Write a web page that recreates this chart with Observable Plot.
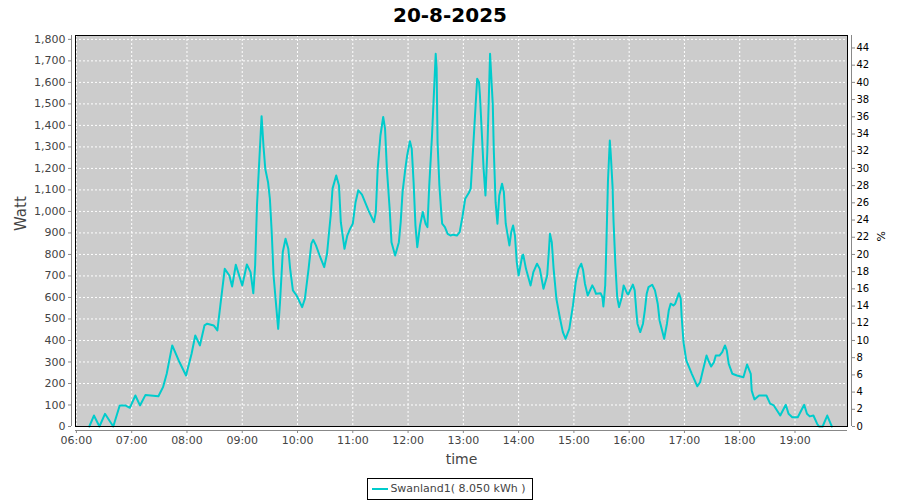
<!DOCTYPE html>
<html>
<head>
<meta charset="utf-8">
<script src="https://cdn.jsdelivr.net/npm/d3@7"></script>
<script src="https://cdn.jsdelivr.net/npm/@observablehq/plot@0.6"></script>
<style>
  html, body { margin: 0; padding: 0; background: #fff; }
  #wrap { position: relative; width: 900px; height: 500px; overflow: hidden; font-family: "DejaVu Sans", sans-serif; }
  #title { position: absolute; left: 0; top: 0; width: 900px; height: 30px; line-height: 30px; text-align: center; font-weight: bold; font-size: 20px; color: #000; }
  #chart { position: absolute; left: 0; top: 30px; }
  #legendRow { position: absolute; left: 0; top: 477px; width: 900px; text-align: center; }
  #legend { display: inline-block; border: 1px solid #000; background: #fff; height: 20px; line-height: 20px; padding: 0 6px 0 4px; font-size: 11px; color: #444; }
  #legend .sw { display: inline-block; width: 16px; height: 2px; vertical-align: middle; margin-right: 2px; }
</style>
</head>
<body>
<div id="wrap">
  <div id="title"></div>
  <div id="chart"></div>
  <div id="legendRow"><div id="legend"></div></div>
</div>
<script>
// ---- data ----
const chartTitle = "20-8-2025";
const seriesName = "Swanland1( 8.050 kWh )";
const seriesColor = "#00cccc";
const dateStr = "2025-08-20";
const timeDomain = ["05:59", "19:57"];
const times = [
  "06:14","06:19","06:25","06:31","06:40","06:47","06:53","06:58","07:04","07:09",
  "07:15","07:29","07:34","07:38","07:44","07:51","07:59","08:05","08:09","08:14",
  "08:19","08:22","08:29","08:33","08:36","08:41","08:46","08:49","08:53","09:00",
  "09:05","09:09","09:12","09:14","09:16","09:21","09:23","09:25","09:28","09:30",
  "09:32","09:34","09:39","09:41","09:44","09:47","09:50","09:52","09:55","09:59",
  "10:05","10:08","10:12","10:15","10:17","10:20","10:24","10:29","10:32","10:36",
  "10:38","10:42","10:45","10:47","10:51","10:54","10:57","11:00","11:03","11:06",
  "11:10","11:14","11:17","11:23","11:25","11:27","11:30","11:33","11:35","11:37",
  "11:40","11:42","11:46","11:50","11:52","11:54","11:57","11:59","12:02","12:04",
  "12:06","12:08","12:10","12:13","12:16","12:19","12:21","12:23","12:26","12:30",
  "12:31","12:32","12:34","12:36","12:37","12:40","12:43","12:46","12:49","12:53",
  "12:56","12:59","13:02","13:06","13:08","13:11","13:15","13:17","13:18","13:20",
  "13:22","13:24","13:26","13:29","13:32","13:33","13:35","13:37","13:39","13:42",
  "13:44","13:46","13:50","13:52","13:54","13:56","13:58","14:00","14:04","14:05",
  "14:08","14:13","14:16","14:20","14:23","14:27","14:31","14:33","14:34","14:36",
  "14:38","14:41","14:45","14:48","14:51","14:55","14:59","15:02","15:05","15:08",
  "15:10","15:12","15:15","15:20","15:22","15:24","15:29","15:31","15:32","15:34",
  "15:35","15:37","15:39","15:40","15:42","15:43","15:45","15:47","15:49","15:52",
  "15:54","15:58","15:59","16:04","16:06","16:08","16:09","16:12","16:15","16:17",
  "16:19","16:21","16:25","16:28","16:31","16:33","16:38","16:41","16:43","16:45",
  "16:48","16:50","16:54","16:56","16:57","16:59","17:02","17:05","17:08","17:14",
  "17:17","17:20","17:24","17:26","17:29","17:32","17:34","17:38","17:41","17:44",
  "17:46","17:48","17:52","17:57","18:04","18:08","18:12","18:13","18:16","18:21",
  "18:29","18:33","18:37","18:44","18:50","18:53","18:57","19:03","19:10","19:13",
  "19:16","19:20","19:24","19:26","19:30","19:35","19:38","19:40"
];
const watts = [
  0,51,0,59,0,98,98,87,144,98,
  147,141,183,245,377,307,237,338,423,377,
  470,478,470,447,555,733,702,651,752,656,
  753,718,620,749,1028,1443,1307,1198,1136,1059,
  904,702,454,578,811,873,826,733,633,609,
  555,594,733,850,868,842,795,741,803,981,
  1106,1167,1121,950,826,888,919,943,1043,1098,
  1078,1036,1005,950,997,1198,1353,1439,1385,1198,
  1013,857,795,857,950,1090,1198,1260,1326,1291,
  1136,935,834,935,997,943,927,1121,1353,1733,
  1664,1322,1121,997,943,927,896,888,892,888,
  904,974,1059,1087,1106,1322,1617,1601,1540,1369,
  1198,1074,1276,1733,1493,1291,1043,943,1074,1129,
  1090,943,842,904,935,888,764,702,795,799,
  733,656,718,757,733,640,702,826,896,857,
  733,594,501,439,408,454,563,671,733,757,
  726,664,609,656,640,617,620,601,558,656,
  803,1144,1330,1268,1113,958,757,601,555,601,
  656,617,614,660,633,524,478,439,478,540,
  617,648,659,633,571,493,408,478,540,571,
  563,571,620,594,508,392,307,276,245,187,
  206,260,330,307,279,299,330,330,346,377,
  353,292,245,237,229,288,245,167,126,144,
  144,106,98,51,101,59,43,43,101,59,
  47,51,13,0,0,51,20,0
];
const hourTicks = ["06:00","07:00","08:00","09:00","10:00","11:00","12:00","13:00","14:00","15:00","16:00","17:00","18:00","19:00"];
const wattTicks = [0,100,200,300,400,500,600,700,800,900,1000,1100,1200,1300,1400,1500,1600,1700,1800];
const pctTicks = [0,2,4,6,8,10,12,14,16,18,20,22,24,26,28,30,32,34,36,38,40,42,44];
const capacityW = 4000;      // 100 % on the right axis
const wattMax = 1818;        // top of the plot area

// ---- build ----
const parse = d3.utcParse("%Y-%m-%d %H:%M");
const T = s => parse(dateStr + " " + s);
const data = times.map((t, i) => ({time: T(t), watt: watts[i]}));
const xDom = timeDomain.map(T);
const xTicks = hourTicks.map(T);
const pctAsW = pctTicks.map(p => p * capacityW / 100);

document.getElementById("title").textContent = chartTitle;
document.getElementById("legend").innerHTML =
  `<span class="sw" style="background:${seriesColor}"></span>` + seriesName;

const grid = {stroke: "#ffffff", strokeOpacity: 1, strokeWidth: 1, strokeDasharray: "2,2"};
const chart = Plot.plot({
  width: 900,
  height: 445,
  marginTop: 5,
  marginLeft: 75,
  marginRight: 53,
  marginBottom: 49,
  style: {fontFamily: "DejaVu Sans, sans-serif", fontSize: "11px", color: "#444", background: "transparent", overflow: "visible"},
  x: {type: "utc", domain: xDom},
  y: {domain: [0, wattMax]},
  marks: [
    Plot.frame({fill: "#cccccc", stroke: null}),
    Plot.gridX(xTicks, grid),
    Plot.gridY(wattTicks, grid),
    Plot.line(data, {x: "time", y: "watt", stroke: seriesColor, strokeWidth: 2}),
    Plot.frame({stroke: "#000", strokeWidth: 1}),
    // axis lines
    Plot.ruleX([xDom[0]], {y1: 0, y2: wattMax, dx: -4, stroke: "#888"}),
    Plot.ruleX([xDom[1]], {y1: 0, y2: wattMax, dx: 4, stroke: "#888"}),
    Plot.ruleY([0], {x1: xDom[0], x2: xDom[1], dy: 4, stroke: "#888"}),
    Plot.axisY(wattTicks, {anchor: "left", tickSize: 3, tickPadding: 3, dx: -4, stroke: "#888", fill: "#444", tickFormat: d3.format(","), label: null}),
    Plot.axisY(pctAsW, {anchor: "right", tickSize: 3, tickPadding: 2, dx: 4, stroke: "#888", fill: "#000", fontSize: 10, tickFormat: w => String(Math.round(w * 100 / capacityW)), label: null}),
    Plot.axisX(xTicks, {anchor: "bottom", tickSize: 3, tickPadding: 3, dy: 4, stroke: "#888", fill: "#444", tickFormat: d3.utcFormat("%H:%M"), label: null}),
    Plot.text(["Watt"], {frameAnchor: "left", rotate: -90, dx: -54, fontSize: 15, fill: "#444", text: d => d}),
    Plot.text(["%"], {frameAnchor: "right", rotate: -90, dx: 34, fontSize: 11, fill: "#000", text: d => d}),
    Plot.text(["time"], {frameAnchor: "bottom", dy: 37, fontSize: 14, fill: "#444", text: d => d})
  ]
});
document.getElementById("chart").appendChild(chart);
</script>
</body>
</html>
